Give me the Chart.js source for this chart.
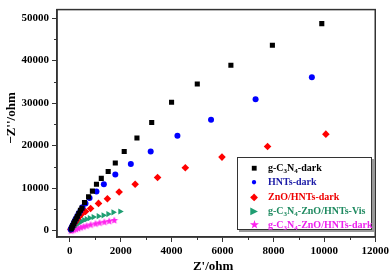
<!DOCTYPE html>
<html>
<head>
<meta charset="utf-8">
<script src="https://cdn.jsdelivr.net/npm/chart.js@4"></script>
<style>
  html, body { margin: 0; padding: 0; background: #fff; }
  #wrap { position: relative; width: 392px; height: 277px; }
  #legend {
    position: absolute; left: 237px; top: 157px; width: 135px; height: 73px;
    border: 1px solid #333; box-shadow: 2px 2px 0 #999; background: #fff;
    font: bold 10px "Liberation Serif", "DejaVu Serif", serif;
    box-sizing: border-box; padding-top: 3px;
  }
  #legend .row { height: 14.3px; line-height: 14.3px; white-space: nowrap; position: relative; }
  #legend .mk { position: absolute; left: 11px; width: 10px; text-align: center; font-size: 10px; }
  #legend .tx { position: absolute; left: 30px; }
  #legend sub { font-size: 7px; vertical-align: -2px; line-height: 0; }
</style>
</head>
<body>
<div id="wrap">
  <canvas id="eis" width="392" height="277"></canvas>
  <div id="legend"></div>
</div>
<script>
// ── Data ──────────────────────────────────────────────────────────────────────
const seriesNames = ['g-C3N4-dark', 'HNTs-dark', 'ZnO/HNTs-dark', 'g-C3N4-ZnO/HNTs-Vis', 'g-C3N4-ZnO/HNTs-dark'];

const blackX = [60, 90, 120, 160, 200, 250, 300, 360, 420, 480, 580, 740, 890, 1050, 1240, 1510, 1790, 2140, 2640, 3220, 4000, 5010, 6330, 7960, 9900];
const blackY = [400, 800, 1200, 1700, 2200, 2800, 3400, 4100, 4800, 5300, 6600, 7950, 9300, 10900, 12300, 13900, 15900, 18600, 21800, 25450, 30200, 34500, 38900, 43600, 48700];

const blueX = [40, 70, 100, 140, 180, 230, 290, 350, 420, 500, 620, 780, 1050, 1340, 1790, 2400, 3180, 4230, 5550, 7300, 9510];
const blueY = [250, 600, 1000, 1500, 2100, 2700, 3300, 4000, 4700, 5500, 6400, 7700, 9200, 10900, 13200, 15700, 18600, 22300, 26100, 30900, 36100];

const redX = [40, 80, 120, 170, 230, 300, 380, 470, 620, 820, 1130, 1480, 1940, 2570, 3450, 4540, 5980, 7770, 10060];
const redY = [300, 700, 1100, 1600, 2100, 2700, 3300, 3900, 4500, 5200, 6400, 7500, 9100, 10900, 12500, 14800, 17300, 19800, 22700];

const greenX = [50, 90, 150, 220, 300, 380, 470, 560, 660, 780, 930, 1130, 1320, 1510, 1710, 1980];
const greenY = [150, 400, 800, 1200, 1600, 1900, 2200, 2500, 2700, 2950, 3200, 3400, 3600, 3900, 4300, 4500];

const magX = [40, 90, 160, 240, 330, 430, 540, 660, 820, 1010, 1170, 1360, 1550, 1750];
const magY = [50, 120, 250, 400, 600, 800, 1000, 1200, 1450, 1700, 1900, 2100, 2300, 2500];

const xTicks = [0, 2000, 4000, 6000, 8000, 10000, 12000];
const yTicks = [0, 10000, 20000, 30000, 40000, 50000];

// ── Style ────────────────────────────────────────────────────────────────────
const FONT = '"Liberation Serif", "DejaVu Serif", serif';
const AXIS = '#333';
const COLORS = ['#000000', '#0000ff', '#ff0000', '#1f9e72', '#ff22ee'];
const TEXT_COLORS = ['#000000', '#1a1aa6', '#ee0000', '#1f8a60', '#ee22ee'];

const toPoints = (xs, ys) => xs.map((x, i) => ({ x, y: ys[i] }));

// filled five-point star for the last series (Chart.js 'star' is an asterisk)
function makeStar(color, r) {
    const c = document.createElement('canvas');
    c.width = c.height = Math.ceil(r * 2 + 2);
    const g = c.getContext('2d');
    const cx = c.width / 2, cy = c.height / 2;
    g.beginPath();
    for (let i = 0; i < 10; i++) {
        const rr = i % 2 ? r * 0.45 : r;
        const a = -Math.PI / 2 + i * Math.PI / 5;
        g.lineTo(cx + rr * Math.cos(a), cy + rr * Math.sin(a) + 0.5);
    }
    g.closePath();
    g.fillStyle = color;
    g.fill();
    return c;
}

// frame on top/right, minor ticks, axis titles
const framePlugin = {
    id: 'frame',
    afterDraw(chart) {
        const { ctx, chartArea: a, scales: { x, y } } = chart;
        ctx.save();
        ctx.strokeStyle = AXIS;
        ctx.lineWidth = 1.5;
        ctx.strokeRect(a.left, a.top, a.right - a.left, a.bottom - a.top);

        ctx.lineWidth = 1;
        ctx.beginPath();
        for (let v = 1000; v < 12000; v += 2000) {
            const px = Math.round(x.getPixelForValue(v)) + 0.5;
            ctx.moveTo(px, a.bottom); ctx.lineTo(px, a.bottom + 3);
        }
        for (let v = 5000; v < 52000; v += 10000) {
            const py = Math.round(y.getPixelForValue(v)) + 0.5;
            ctx.moveTo(a.left, py); ctx.lineTo(a.left - 3, py);
        }
        ctx.stroke();

        ctx.fillStyle = '#000';
        ctx.font = 'bold 13px ' + FONT;
        ctx.textAlign = 'center';
        ctx.textBaseline = 'middle';
        ctx.fillText("Z'/ohm", (a.left + a.right) / 2 - 3, 267);
        ctx.translate(12, 118);
        ctx.rotate(-Math.PI / 2);
        ctx.fillText("\u2212Z''/ohm", 0, 0);
        ctx.restore();
    },
};

const datasets = [
    { data: toPoints(blackX, blackY), pointStyle: 'rect', pointRadius: 3.6 },
    { data: toPoints(blueX, blueY), pointStyle: 'circle', pointRadius: 3 },
    { data: toPoints(redX, redY), pointStyle: 'rectRot', pointRadius: 3.8 },
    { data: toPoints(greenX, greenY), pointStyle: 'triangle', pointRadius: 3.6, rotation: 90 },
    { data: toPoints(magX, magY), pointStyle: makeStar(COLORS[4], 4), pointRadius: 4 },
].map((d, i) => ({
    label: seriesNames[i],
    backgroundColor: COLORS[i],
    borderColor: COLORS[i],
    borderWidth: 0,
    pointBorderWidth: 0,
    showLine: false,
    ...d,
}));

const tickFont = { family: FONT, size: 11, weight: 'bold' };

new Chart(document.getElementById('eis'), {
    type: 'scatter',
    data: { datasets },
    options: {
        responsive: false,
        animation: false,
        layout: { padding: { top: 1, right: 14, left: 0, bottom: 0 } },
        plugins: { legend: { display: false }, tooltip: { enabled: false } },
        scales: {
            x: {
                type: 'linear', min: -500, max: 12000,
                afterBuildTicks: (s) => { s.ticks = xTicks.map((value) => ({ value })); },
                afterFit: (s) => { s.height = 40; },
                grid: { drawOnChartArea: false, tickLength: 5, color: AXIS, lineWidth: 1 },
                border: { color: AXIS, width: 1.5 },
                ticks: { color: '#000', font: tickFont, padding: 3, maxRotation: 0, callback: (v) => String(v) },
            },
            y: {
                type: 'linear', min: -1500, max: 52000,
                afterBuildTicks: (s) => { s.ticks = yTicks.map((value) => ({ value })); },
                afterFit: (s) => { s.width = 57; },
                grid: { drawOnChartArea: false, tickLength: 5, color: AXIS, lineWidth: 1 },
                border: { color: AXIS, width: 1.5 },
                ticks: { color: '#000', font: tickFont, padding: 3, callback: (v) => String(v) },
            },
        },
    },
    plugins: [framePlugin],
});

// ── Legend (HTML so the subscripts stay real text) ───────────────────────────
const markers = ['\u25A0', '\u25CF', '\u25C6', '\u25B6', '\u2605'];
const withSubs = (s) => s.replace('C3N4', 'C<sub>3</sub>N<sub>4</sub>');
document.getElementById('legend').innerHTML = seriesNames.map((name, i) => `
    <div class="row">
        <span class="mk" style="color:${COLORS[i]}">${markers[i]}</span>
        <span class="tx" style="color:${TEXT_COLORS[i]}">${withSubs(name)}</span>
    </div>`).join('');
</script>
</body>
</html>
